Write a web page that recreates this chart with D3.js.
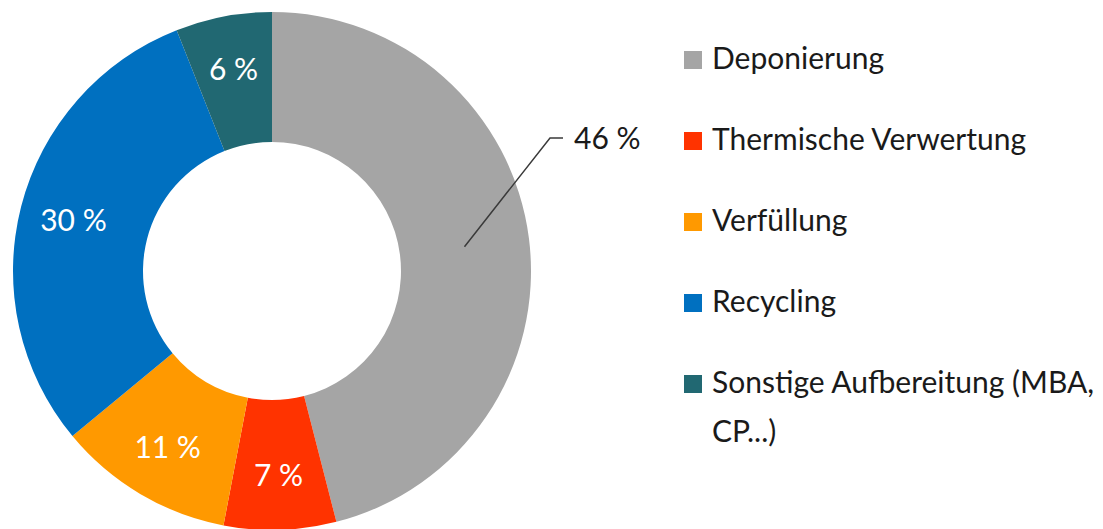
<!DOCTYPE html>
<html>
<head>
<meta charset="utf-8">
<script src="https://cdn.jsdelivr.net/npm/d3@7"></script>
<style>
  body { margin: 0; background: #fff; }
  svg { display: block; }
  text { font-family: Lato, "Open Sans", sans-serif; }
</style>
</head>
<body>
<svg width="1103" height="529"></svg>
<script>
const categories = ['Deponierung', 'Thermische Verwertung', 'Verfüllung', 'Recycling', 'Sonstige Aufbereitung (MBA, CP...)'];
const values = [46, 7, 11, 30, 6];
const colors = ['#A5A5A5', '#FF3300', '#FF9900', '#0070C0', '#216872'];
// legend text may wrap to two lines
const legendLines = [['Deponierung'], ['Thermische Verwertung'], ['Verfüllung'], ['Recycling'], ['Sonstige Aufbereitung (MBA,', 'CP...)']];

const svg = d3.select('svg');
const cx = 272, cy = 271;
const outerR = 259, innerR = 129;
const fontSize = 30;

const pie = d3.pie().sort(null).value(d => d);
const arcs = pie(values);
const arc = d3.arc().innerRadius(innerR).outerRadius(outerR);
const labelArc = d3.arc().innerRadius(205).outerRadius(205);
const midArc = d3.arc().innerRadius(194).outerRadius(194);

const g = svg.append('g').attr('transform', `translate(${cx},${cy})`);

g.selectAll('path')
  .data(arcs)
  .enter()
  .append('path')
  .attr('d', arc)
  .attr('fill', (d, i) => colors[i]);

// inside labels for all but the first slice
g.selectAll('text.inside')
  .data(arcs.filter((d, i) => i > 0))
  .enter()
  .append('text')
  .attr('class', 'inside')
  .attr('x', d => labelArc.centroid(d)[0])
  .attr('y', d => labelArc.centroid(d)[1])
  .attr('dy', '0.35em')
  .attr('text-anchor', 'middle')
  .attr('fill', '#fff')
  .attr('font-size', fontSize)
  .text(d => d.value + ' %');

// outside label for the big slice with leader line
const first = arcs[0];
const [sx, sy] = midArc.centroid(first);
const elbow = [550 - cx, 138 - cy];
const endX = 563 - cx;
g.append('polyline')
  .attr('points', [[sx, sy], elbow, [endX, elbow[1]]].map(p => p.join(',')).join(' '))
  .attr('fill', 'none')
  .attr('stroke', '#3a3a3a')
  .attr('stroke-width', 1.5);
g.append('text')
  .attr('x', endX + 11)
  .attr('y', elbow[1])
  .attr('dy', '0.35em')
  .attr('fill', '#1a1a1a')
  .attr('font-size', fontSize)
  .text(first.value + ' %');

// legend
const legendY = d3.scalePoint().domain(d3.range(categories.length)).range([69, 393]);
const legend = svg.append('g').attr('transform', 'translate(684,0)');
const item = legend.selectAll('g')
  .data(categories)
  .enter()
  .append('g')
  .attr('transform', (d, i) => `translate(0,${legendY(i)})`);
item.append('rect')
  .attr('x', 0)
  .attr('y', -18)
  .attr('width', 18)
  .attr('height', 18)
  .attr('fill', (d, i) => colors[i]);
item.append('text')
  .attr('x', 28)
  .attr('fill', '#1a1a1a')
  .attr('font-size', fontSize)
  .selectAll('tspan')
  .data((d, i) => legendLines[i])
  .enter()
  .append('tspan')
  .attr('x', 28)
  .attr('dy', (d, j) => j === 0 ? 0 : 49)
  .text(d => d);
</script>
</body>
</html>
